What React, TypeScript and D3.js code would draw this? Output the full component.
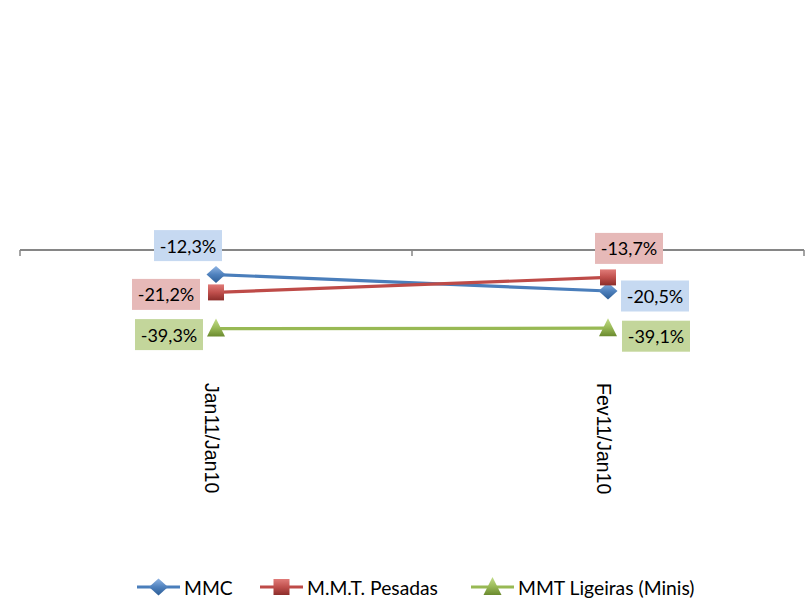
import React from "react";
import * as d3 from "d3";

const categories = ["Jan11/Jan10", "Fev11/Jan10"];
const seriesNames = ["MMC", "M.M.T. Pesadas", "MMT Ligeiras (Minis)"];
const mmc = [-12.3, -20.5];
const pesadas = [-21.2, -13.7];
const ligeiras = [-39.3, -39.1];

const W = 812;
const H = 616;

const styles = [
  { line: "#4a7ebb", fill: "#4f81bd", light: "#8fb4e3", dark: "#2c5d96", box: "#c6d9f1", marker: "diamond" },
  { line: "#be4b48", fill: "#c0504d", light: "#e07b78", dark: "#8c2d2a", box: "#e6b9b8", marker: "square" },
  { line: "#98b954", fill: "#9bbb59", light: "#c3dd8a", dark: "#6a8a2e", box: "#c3d69b", marker: "triangle" },
];

// label box center offsets relative to point (pixels)
const labelOffsets = [
  [[-28, -29], [47, 5]],
  [[-50, 2], [21, -29]],
  [[-47, 6], [48, 8]],
];

function fmt(v: number) {
  return v.toFixed(1).replace(".", ",") + "%";
}

function Marker({ type, x, y, id }: { type: string; x: number; y: number; id: string }) {
  const fill = `url(#grad-${id})`;
  if (type === "diamond") {
    const r = 8.5;
    return <path d={`M${x},${y - r} L${x + r + 1},${y} L${x},${y + r} L${x - r - 1},${y} Z`} fill={fill} stroke="none" />;
  }
  if (type === "square") {
    const s = 16;
    return <rect x={x - s / 2} y={y - s / 2} width={s} height={s} fill={fill} />;
  }
  const h = 18;
  const w = 18;
  return <path d={`M${x},${y - h / 2 - 1} L${x + w / 2},${y + h / 2 - 1} L${x - w / 2},${y + h / 2 - 1} Z`} fill={fill} />;
}

export default function App() {
  const allSeries = [mmc, pesadas, ligeiras];
  const x = d3.scaleBand<string>().domain(categories).range([20, 804]);
  const y = d3.scaleLinear().domain([-60, 100]).range([370, 50]);
  const cx = (c: string) => (x(c) ?? 0) + x.bandwidth() / 2;
  const line = d3
    .line<number>()
    .x((_, i) => cx(categories[i]))
    .y((d) => y(d));

  const y0 = y(0);
  const tickXs = [...categories.map((c) => x(c) ?? 0), 804];
  const labelFont = "Lato, 'Open Sans', sans-serif";

  const legendX = [137, 260, 471];
  const legendY = 587;

  return (
    <svg width={W} height={H} style={{ position: "absolute", left: 0, top: 0, background: "#fff" }}>
      <defs>
        {styles.map((s, i) => (
          <linearGradient key={i} id={`grad-s${i}`} x1="0" y1="0" x2="0" y2="1">
            <stop offset="0%" stopColor={s.light} />
            <stop offset="50%" stopColor={s.fill} />
            <stop offset="100%" stopColor={s.dark} />
          </linearGradient>
        ))}
      </defs>
      <rect x={0} y={0} width={W} height={H} fill="#fff" />
      {/* axis */}
      <line x1={20} x2={804} y1={y0} y2={y0} stroke="#868686" strokeWidth={2} />
      {tickXs.map((t, i) => (
        <line key={i} x1={t} x2={t} y1={y0} y2={y0 + 6} stroke="#868686" strokeWidth={1.5} />
      ))}
      {/* category labels */}
      {categories.map((c) => (
        <text
          key={c}
          transform={`translate(${cx(c) - 11},383) rotate(90)`}
          fontFamily="'Liberation Sans', Arial, sans-serif"
          fontSize={19.5}
          fill="#000"
        >
          {c}
        </text>
      ))}
      {/* lines */}
      {allSeries.map((s, i) => (
        <path key={i} d={line(s) ?? ""} fill="none" stroke={styles[i].line} strokeWidth={3.2} />
      ))}
      {/* markers */}
      {allSeries.map((s, i) =>
        s.map((v, j) => <Marker key={`${i}-${j}`} type={styles[i].marker} x={cx(categories[j])} y={y(v)} id={`s${i}`} />)
      )}
      {/* data labels */}
      {allSeries.map((s, i) =>
        s.map((v, j) => {
          const px = cx(categories[j]) + labelOffsets[i][j][0];
          const py = y(v) + labelOffsets[i][j][1];
          return (
            <g key={`l${i}-${j}`}>
              <rect x={px - 34} y={py - 15.5} width={68} height={31} fill={styles[i].box} />
              <text x={px} y={py} textAnchor="middle" dominantBaseline="central" fontFamily={labelFont} fontSize={18} fill="#000">
                {fmt(v)}
              </text>
            </g>
          );
        })
      )}
      {/* legend */}
      {seriesNames.map((n, i) => (
        <g key={n}>
          <line x1={legendX[i]} x2={legendX[i] + 43} y1={legendY} y2={legendY} stroke={styles[i].line} strokeWidth={3.2} />
          <Marker type={styles[i].marker} x={legendX[i] + 21.5} y={legendY} id={`s${i}`} />
          <text x={legendX[i] + 47} y={legendY} dominantBaseline="central" fontFamily={labelFont} fontSize={19.3} fill="#000">
            {n}
          </text>
        </g>
      ))}
    </svg>
  );
}
